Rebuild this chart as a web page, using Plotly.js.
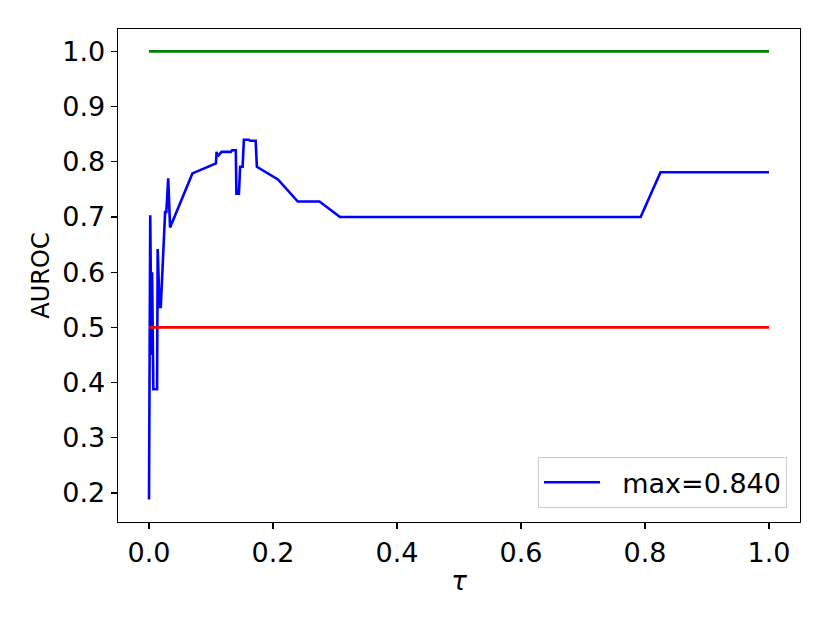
<!DOCTYPE html>
<html>
<head>
<meta charset="utf-8">
<script src="https://cdn.plot.ly/plotly-3.0.1.min.js"></script>
<style>html,body{margin:0;padding:0;background:#fff;}#chart{width:830px;height:623px;}</style>
</head>
<body>
<div id="chart"></div>
<script>
// Blue curve: AUROC as a function of tau
const tau = [0, 0.002, 0.004, 0.005, 0.007, 0.013, 0.014, 0.017, 0.019, 0.021, 0.024, 0.026, 0.028, 0.031, 0.034, 0.070,
  0.108, 0.109, 0.111, 0.114, 0.117, 0.132, 0.134, 0.140, 0.141, 0.145, 0.147, 0.151, 0.153, 0.161, 0.163, 0.172, 0.174,
  0.208, 0.240, 0.275, 0.308, 0.793, 0.825, 1.0];
const auroc = [0.188, 0.703, 0.45, 0.600, 0.388, 0.388, 0.642, 0.537, 0.537, 0.594, 0.682, 0.709, 0.709, 0.770, 0.681, 0.779,
  0.797, 0.818, 0.810, 0.815, 0.818, 0.818, 0.821, 0.821, 0.742, 0.742, 0.791, 0.791, 0.840, 0.840, 0.838, 0.838, 0.791,
  0.768, 0.728, 0.728, 0.700, 0.700, 0.781, 0.781];
// Reference lines
const refX = [0, 1];
const perfect = [1.0, 1.0];
const chance = [0.5, 0.5];
const legendLabel = "max=0.840";
const xTicks = [0, 0.2, 0.4, 0.6, 0.8, 1.0];
const yTicks = [0.2, 0.3, 0.4, 0.5, 0.6, 0.7, 0.8, 0.9, 1.0];

const font = "DejaVu Sans, sans-serif";
const traces = [
  {x: tau, y: auroc, mode: "lines", name: "\u00a0\u00a0" + legendLabel, line: {color: "#0000ff", width: 2.6}},
  {x: refX, y: perfect, mode: "lines", showlegend: false, line: {color: "#008000", width: 2.6}},
  {x: refX, y: chance, mode: "lines", showlegend: false, line: {color: "#ff0000", width: 2.6}}
];
const axisCommon = {
  showgrid: false, zeroline: false, showline: true, mirror: true,
  linecolor: "#000", linewidth: 1.3, ticks: "outside", ticklen: 6, tickwidth: 1.3, tickcolor: "#000",
  tickfont: {family: font, size: 27, color: "#000"}, tickformat: ".1f"
};
const layout = {
  width: 830, height: 623,
  margin: {l: 118, r: 30, t: 29, b: 101},
  paper_bgcolor: "#fff", plot_bgcolor: "#fff",
  font: {family: font, color: "#000"},
  xaxis: Object.assign({}, axisCommon, {range: [-0.05, 1.05], tickvals: xTicks,
    title: {text: "<i>τ</i>", font: {family: font, size: 26, color: "#000"}, standoff: 5}}),
  yaxis: Object.assign({}, axisCommon, {range: [0.1474, 1.0406], tickvals: yTicks,
    title: {text: "AUROC", font: {family: font, size: 24, color: "#000"}, standoff: 6}}),
  showlegend: true,
  legend: {x: 0.981, y: 0.028, xanchor: "right", yanchor: "bottom",
    bgcolor: "rgba(255,255,255,0.8)", bordercolor: "#cccccc", borderwidth: 1,
    font: {family: font, size: 27, color: "#000"}, itemwidth: 56}
};
Plotly.newPlot("chart", traces, layout, {displayModeBar: false, staticPlot: true});
</script>
</body>
</html>
